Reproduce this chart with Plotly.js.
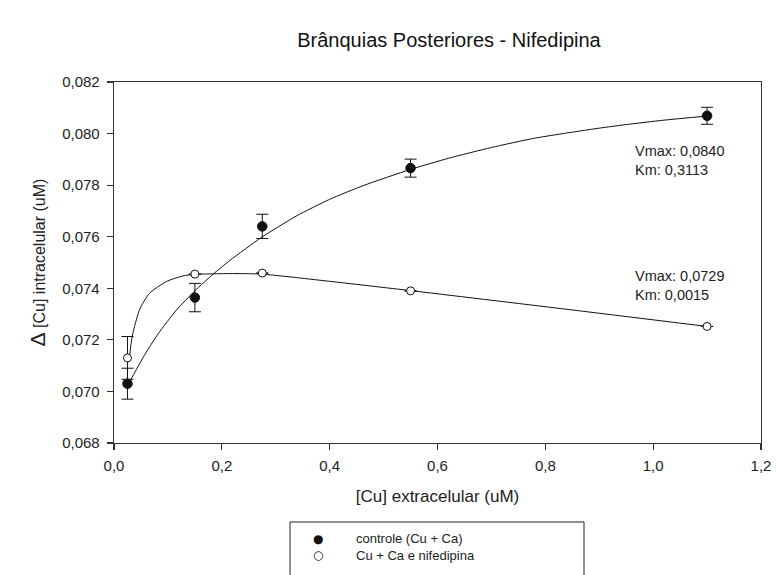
<!DOCTYPE html>
<html>
<head>
<meta charset="utf-8">
<script src="https://cdn.plot.ly/plotly-3.0.1.min.js"></script>
<style>
  html, body { margin: 0; padding: 0; background: #fff; }
  #chart { width: 776px; height: 575px; }
</style>
</head>
<body>
<div id="chart"></div>
<script>
// Extracellular Cu concentrations (uM)
const cuExtra = [0.025, 0.15, 0.275, 0.55, 1.1];

// Control (Cu + Ca): mean intracellular Δ[Cu] and error
const controleY = [0.0703, 0.07364, 0.0764, 0.07866, 0.08069];
const controleErr = [0.0006, 0.00055, 0.00047, 0.00035, 0.00033];

// Cu + Ca with nifedipine
const nifedY = [0.0713, 0.07455, 0.07459, 0.0739, 0.07252];
const nifedErr = [0.00083, null, null, null, null];

// Fitted kinetic curve, control
const fitControleX = [0.025, 0.035, 0.054, 0.082, 0.116, 0.15, 0.184, 0.215, 0.274, 0.338, 0.40, 0.462, 0.55, 0.62, 0.70, 0.78, 0.89, 0.95, 1.02, 1.10];
const fitControleY = [0.0702, 0.0706, 0.07132, 0.07224, 0.07316, 0.0739, 0.07455, 0.07508, 0.07598, 0.0768, 0.07745, 0.07798, 0.07861, 0.07904, 0.07946, 0.07982, 0.08018, 0.08035, 0.08052, 0.08068];

// Fitted kinetic curve, nifedipine
const fitNifedX = [0.029, 0.032, 0.036, 0.048, 0.066, 0.097, 0.128, 0.15, 0.183, 0.215, 0.273, 0.40, 0.55, 0.83, 1.10];
const fitNifedY = [0.0714, 0.0719, 0.07235, 0.0732, 0.07381, 0.07426, 0.07448, 0.07454, 0.07456, 0.07457, 0.07455, 0.07427, 0.07391, 0.07321, 0.07252];

// Fit parameter labels
const fitLabels = [
  ["Vmax: 0,0840", "Km: 0,3113"],
  ["Vmax: 0,0729", "Km: 0,0015"]
];

// Legend entries
const legendNames = ["controle (Cu + Ca)", "Cu + Ca e nifedipina"];
const legendSymbols = ["\u25CF", "\u25CB"];

const FONT = "'Liberation Sans', Arial, Helvetica, sans-serif";

const traces = [
  {
    x: fitControleX, y: fitControleY, mode: "lines", type: "scatter",
    line: { color: "#111", width: 1, shape: "spline", smoothing: 0.6 },
    hoverinfo: "skip", showlegend: false
  },
  {
    x: fitNifedX, y: fitNifedY, mode: "lines", type: "scatter",
    line: { color: "#111", width: 1, shape: "spline", smoothing: 0.6 },
    hoverinfo: "skip", showlegend: false
  },
  {
    x: cuExtra, y: nifedY, mode: "markers", type: "scatter", name: legendNames[1],
    marker: { symbol: "circle", size: 8, color: "#fff", line: { color: "#111", width: 1 } },
    error_y: { type: "data", array: nifedErr, visible: true, color: "#111", thickness: 1, width: 6 },
    showlegend: false
  },
  {
    x: cuExtra, y: controleY, mode: "markers", type: "scatter", name: legendNames[0],
    marker: { symbol: "circle", size: 9.5, color: "#111", line: { color: "#111", width: 1 } },
    error_y: { type: "data", array: controleErr, visible: true, color: "#111", thickness: 1, width: 6 },
    showlegend: false
  }
];

// Plot-area geometry used to place paper-referenced items
const L = 114, R = 761, T = 82, B = 443;
const px = v => (v - L) / (R - L);
const py = v => (B - v) / (B - T);

const annotations = [];
// Fit parameters, next to the curve they describe
const labelCenters = [160.5, 285];
fitLabels.forEach((lines, i) => {
  annotations.push({
    xref: "paper", yref: "paper", x: px(633), y: py(labelCenters[i]),
    xanchor: "left", yanchor: "middle", align: "left", showarrow: false,
    text: lines.join("<br>"), font: { family: FONT, size: 14.5, color: "#222" }
  });
});
// Legend: symbols column and names column
const legendCenter = 546.5;
annotations.push({
  xref: "paper", yref: "paper", x: px(318), y: py(legendCenter),
  xanchor: "center", yanchor: "middle", align: "center", showarrow: false,
  text: legendSymbols.join("<br>"), font: { family: "DejaVu Sans", size: 12, color: "#111" }
});
annotations.push({
  xref: "paper", yref: "paper", x: px(354), y: py(legendCenter),
  xanchor: "left", yanchor: "middle", align: "left", showarrow: false,
  text: legendNames.join("<br>"), font: { family: FONT, size: 13, color: "#222" }
});

const axisCommon = {
  showgrid: false, zeroline: false, showline: true, mirror: true,
  linecolor: "#333", linewidth: 1.3, ticks: "outside", ticklen: 6,
  tickcolor: "#333", tickwidth: 1.2, automargin: false,
  tickfont: { family: FONT, size: 15, color: "#222" }
};

const layout = {
  width: 776, height: 575,
  margin: { l: L, r: 776 - R, t: T, b: 575 - B },
  paper_bgcolor: "#fff", plot_bgcolor: "#fff",
  separators: ",.",
  showlegend: false,
  title: {
    text: "Brânquias Posteriores - Nifedipina",
    font: { family: FONT, size: 20, color: "#111" },
    xref: "container", x: 449 / 776, xanchor: "center",
    yref: "container", y: 1 - 40 / 575, yanchor: "middle"
  },
  xaxis: Object.assign({}, axisCommon, {
    range: [0, 1.2], tick0: 0, dtick: 0.2, tickformat: ".1f",
    ticklabelstandoff: 3,
    title: { text: "[Cu] extracelular (uM)", font: { family: FONT, size: 17, color: "#222" }, standoff: 16 }
  }),
  yaxis: Object.assign({}, axisCommon, {
    range: [0.068, 0.082], tick0: 0.068, dtick: 0.002, tickformat: ".3f",
    ticklabelstandoff: 4,
    title: { text: "<span style='font-size:21px'>Δ</span> [Cu] intracelular (uM)", font: { family: FONT, size: 16, color: "#222" }, standoff: 12 }
  }),
  shapes: [
    // legend frame
    { type: "rect", xref: "paper", yref: "paper",
      x0: px(290), x1: px(584), y0: py(522), y1: py(585),
      line: { color: "#222", width: 1 }, fillcolor: "rgba(0,0,0,0)" }
  ],
  annotations: annotations
};

Plotly.newPlot("chart", traces, layout, { displayModeBar: false, staticPlot: true });
</script>
</body>
</html>
